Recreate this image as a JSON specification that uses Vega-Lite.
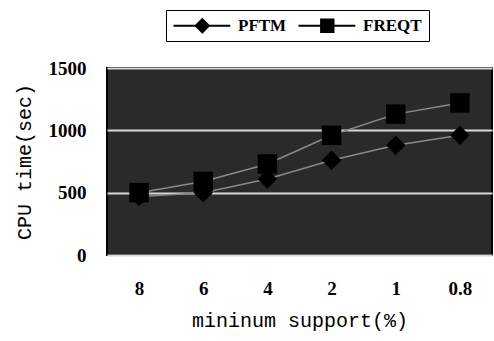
{
  "$schema": "https://vega.github.io/schema/vega-lite/v6.json",
  "width": 385,
  "height": 187,
  "autosize": {"type": "none"},
  "padding": {"left": 107, "top": 68, "right": 2, "bottom": 86},
  "background": "white",
  "config": {
    "view": {"fill": "#2a2a2a", "stroke": "black", "strokeWidth": 2},
    "font": "Liberation Serif"
  },
  "data": {
    "values": [
      {"support": "8", "series": "PFTM", "time": 470},
      {"support": "6", "series": "PFTM", "time": 500},
      {"support": "4", "series": "PFTM", "time": 610},
      {"support": "2", "series": "PFTM", "time": 760},
      {"support": "1", "series": "PFTM", "time": 880},
      {"support": "0.8", "series": "PFTM", "time": 960},
      {"support": "8", "series": "FREQT", "time": 500},
      {"support": "6", "series": "FREQT", "time": 590},
      {"support": "4", "series": "FREQT", "time": 730},
      {"support": "2", "series": "FREQT", "time": 960},
      {"support": "1", "series": "FREQT", "time": 1130},
      {"support": "0.8", "series": "FREQT", "time": 1220}
    ]
  },
  "encoding": {
    "x": {
      "field": "support", "type": "ordinal", "sort": ["8", "6", "4", "2", "1", "0.8"],
      "scale": {"type": "point", "padding": 0.5},
      "axis": {
        "title": "mininum support(%)", "titleFont": "Liberation Mono", "titleFontSize": 20, "titleFontWeight": "normal",
        "titlePadding": 12, "labelAngle": 0, "labelFontSize": 19, "labelFontWeight": "bold", "labelPadding": 24,
        "labelColor": "black", "titleColor": "black",
        "ticks": false, "domain": false, "grid": false
      }
    },
    "y": {
      "field": "time", "type": "quantitative",
      "scale": {"domain": [0, 1500]},
      "axis": {
        "title": "CPU time(sec)", "titleFont": "Liberation Mono", "titleFontSize": 20, "titleFontWeight": "normal",
        "titlePadding": 14, "values": [0, 500, 1000, 1500], "format": "d", "labelFontSize": 19, "labelFontWeight": "bold",
        "labelColor": "black", "titleColor": "black",
        "labelPadding": 21, "ticks": false, "domain": false, "grid": true, "gridColor": "#d8d8d8", "gridWidth": 2
      }
    }
  },
  "layer": [
    {
      "mark": {"type": "line", "color": "#8a8a8a", "strokeWidth": 1.5},
      "encoding": {"detail": {"field": "series"}}
    },
    {
      "mark": {"type": "point", "filled": true, "color": "black", "size": 380, "opacity": 1},
      "encoding": {
        "shape": {
          "field": "series", "type": "nominal",
          "scale": {"domain": ["PFTM", "FREQT"], "range": ["diamond", "square"]},
          "legend": null
        }
      }
    },
    {
      "transform": [{"filter": "datum.time < 0"}],
      "mark": {"type": "point", "filled": true, "color": "black"},
      "encoding": {
        "shape": {
          "field": "series", "type": "nominal",
          "scale": {"domain": ["PFTM", "FREQT"], "range": ["M-1,-0.13H6.1V0.13H-1ZM2.6,-1L3.6,0L2.6,1L1.6,0Z", "M-1,-0.13H6.1V0.13H-1ZM1.7,-0.9H3.5V0.9H1.7Z"]},
          "legend": {
            "orient": "none", "legendX": 59, "legendY": -58, "direction": "horizontal", "title": null,
            "strokeColor": "black", "padding": 7, "labelFontSize": 17, "labelFont": "Liberation Serif",
            "labelFontWeight": "bold", "labelColor": "black", "symbolSize": 256, "symbolFillColor": "black", "symbolStrokeColor": "black",
            "symbolStrokeWidth": 0, "columnPadding": 11, "symbolOpacity": 1, "labelOffset": 48,
            "encode": {"symbols": {"update": {"fill": {"value": "black"}, "opacity": {"value": 1}}}}
          }
        }
      }
    }
  ],
  "resolve": {"scale": {"shape": "independent"}}
}
